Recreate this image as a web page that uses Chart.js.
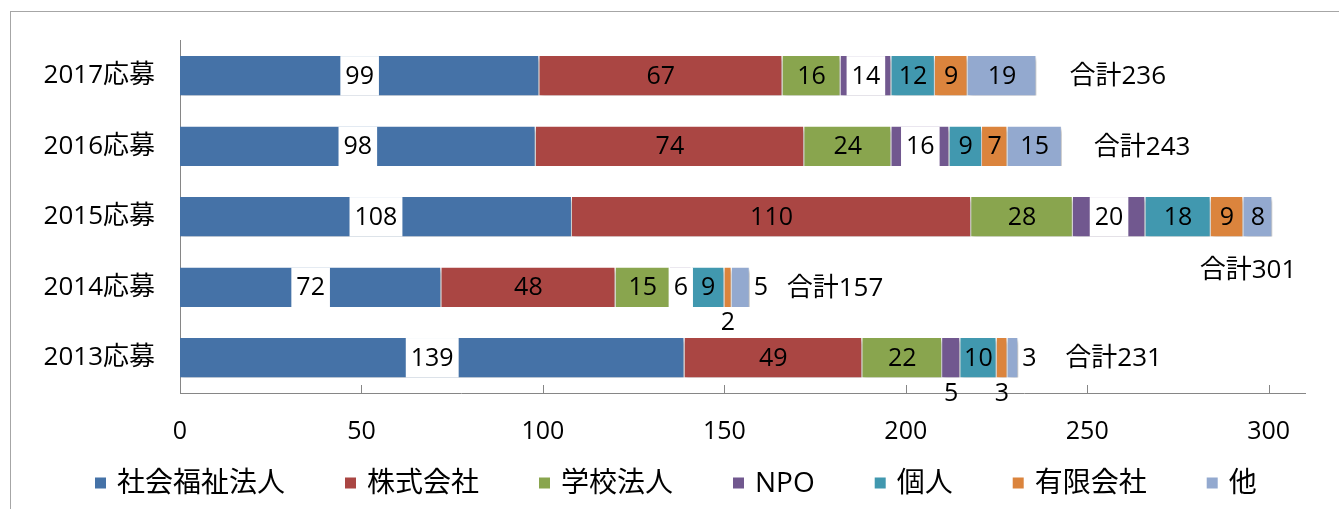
<!DOCTYPE html>
<html>
<head>
<meta charset="utf-8">
<script src="https://cdn.jsdelivr.net/npm/chart.js@4/dist/chart.umd.min.js"></script>
<style>
  body { margin: 0; background: #fff; }
  #wrap { position: relative; width: 1339px; height: 509px; overflow: hidden; }
  #frame { position: absolute; left: 10px; top: 11px; width: 1400px; height: 600px; border: 1px solid #a6a6a6; }
  canvas { position: absolute; left: 0; top: 0; }
</style>
</head>
<body>
<div id="wrap">
  <div id="frame"></div>
  <canvas id="chart" width="1339" height="509"></canvas>
</div>
<script>
const categories = ["2017応募", "2016応募", "2015応募", "2014応募", "2013応募"];
const seriesNames = ["社会福祉法人", "株式会社", "学校法人", "NPO", "個人", "有限会社", "他"];

const shakaiFukushi = [99, 98, 108, 72, 139];
const kabushiki = [67, 74, 110, 48, 49];
const gakko = [16, 24, 28, 15, 22];
const npo = [14, 16, 20, 6, 5];
const kojin = [12, 9, 18, 9, 10];
const yugen = [9, 7, 9, 2, 3];
const other = [19, 15, 8, 5, 3];

const xTicks = [0, 50, 100, 150, 200, 250, 300];

const colors = ["#4572A7", "#AA4643", "#89A54E", "#71588F", "#4198AF", "#DB843D", "#93A9CF"];
const FONT = "'Open Sans', 'Noto Sans CJK JP', sans-serif";

// labels that Excel moved out of the bar
const labelPlace = {
  "5-3": "below", "6-3": "right",
  "3-4": "below", "5-4": "below", "6-4": "right"
};
// offset of the 合計 label from the bar end, per category
const totalOffset = [
  { dx: 33, dy: 0, align: "left" },
  { dx: 32, dy: 0, align: "left" },
  { dx: 24, dy: 53, align: "right" },
  { dx: 37, dy: 0, align: "left" },
  { dx: 47, dy: 0, align: "left" }
];
// hand drawn legend row
const legendStyle = { left: 95, y: 483, box: 11, boxGap: 11, itemGap: 60, size: 28 };

const allSeries = [shakaiFukushi, kabushiki, gakko, npo, kojin, yugen, other];
const totals = categories.map((c, i) => allSeries.reduce((s, arr) => s + arr[i], 0));

const shadowPlugin = {
  id: "barShadow",
  beforeDatasetsDraw(chart) {
    const ctx = chart.ctx;
    ctx.save();
    ctx.shadowColor = "rgba(0,0,0,0.28)";
    ctx.shadowOffsetX = 2;
    ctx.shadowOffsetY = 3;
    ctx.shadowBlur = 4;
  },
  afterDatasetsDraw(chart) {
    chart.ctx.restore();
  }
};

const decorPlugin = {
  id: "decor",
  afterDraw(chart) {
    const ctx = chart.ctx;
    const xs = chart.scales.x;
    const area = chart.chartArea;
    ctx.save();
    // inward tick marks on the value axis
    ctx.strokeStyle = "#868686";
    ctx.lineWidth = 1;
    xTicks.forEach(v => {
      const px = Math.round(xs.getPixelForValue(v)) + 0.5;
      ctx.beginPath();
      ctx.moveTo(px, area.bottom);
      ctx.lineTo(px, area.bottom - 8);
      ctx.stroke();
    });

    ctx.font = "25px " + FONT;
    ctx.textBaseline = "middle";
    chart.data.datasets.forEach((ds, d) => {
      const meta = chart.getDatasetMeta(d);
      meta.data.forEach((bar, i) => {
        const p = bar.getProps(["x", "y", "base", "height"], true);
        const text = String(ds.data[i]);
        const place = labelPlace[d + "-" + i];
        const w = ctx.measureText(text).width;
        let cx = (p.x + p.base) / 2;
        let cy = p.y;
        if (place === "below") {
          cy = p.y + p.height / 2 + 15;
        } else if (place === "right") {
          cx = p.x + 4 + w / 2;
        } else if (d === 0 || d === 3) {
          ctx.fillStyle = "#fff";
          ctx.fillRect(cx - w / 2 - 5, p.y - p.height / 2, w + 10, p.height);
        }
        ctx.fillStyle = "#000";
        ctx.textAlign = "center";
        ctx.fillText(text, cx, cy + 1);
      });
    });

    // 合計 labels
    ctx.font = "26px " + FONT;
    const lastMeta = chart.getDatasetMeta(chart.data.datasets.length - 1);
    lastMeta.data.forEach((bar, i) => {
      const p = bar.getProps(["x", "y", "height"], true);
      const off = totalOffset[i];
      ctx.fillStyle = "#000";
      ctx.textAlign = off.align;
      ctx.fillText("合計" + totals[i], p.x + off.dx, p.y + off.dy + 1);
    });

    // legend
    const L = legendStyle;
    ctx.font = L.size + "px " + FONT;
    ctx.textAlign = "left";
    let lx = L.left;
    chart.data.datasets.forEach(ds => {
      ctx.fillStyle = ds.backgroundColor;
      ctx.fillRect(lx, L.y - L.box / 2, L.box, L.box);
      lx += L.box + L.boxGap;
      ctx.fillStyle = "#000";
      ctx.fillText(ds.label, lx, L.y + 1);
      lx += ctx.measureText(ds.label).width + L.itemGap;
    });
    ctx.restore();
  }
};

new Chart(document.getElementById("chart"), {
  type: "bar",
  data: {
    labels: categories,
    datasets: seriesNames.map((name, k) => ({
      label: name,
      data: allSeries[k],
      backgroundColor: colors[k],
      borderColor: "#ffffff",
      borderWidth: { right: 1 },
      borderSkipped: false,
      categoryPercentage: 0.8,
      barPercentage: 0.7
    }))
  },
  options: {
    indexAxis: "y",
    responsive: false,
    animation: false,
    devicePixelRatio: 1,
    layout: { padding: { left: 0, top: 37, right: 34, bottom: 0 } },
    scales: {
      x: {
        stacked: true,
        min: 0,
        max: 310,
        grid: { display: false, drawTicks: false },
        border: { display: true, color: "#868686", width: 1 },
        ticks: {
          stepSize: 50,
          includeBounds: false,
          padding: 24,
          color: "#000",
          font: { family: FONT, size: 25 }
        },
        afterFit(scale) { scale.height = 116; }
      },
      y: {
        stacked: true,
        grid: { display: false, drawTicks: false },
        border: { display: true, color: "#868686", width: 1 },
        ticks: {
          padding: 25,
          color: "#000",
          font: { family: FONT, size: 26 }
        },
        afterFit(scale) { scale.width = 180; }
      }
    },
    plugins: {
      legend: { display: false },
      tooltip: { enabled: false }
    }
  },
  plugins: [shadowPlugin, decorPlugin]
});
</script>
</body>
</html>
